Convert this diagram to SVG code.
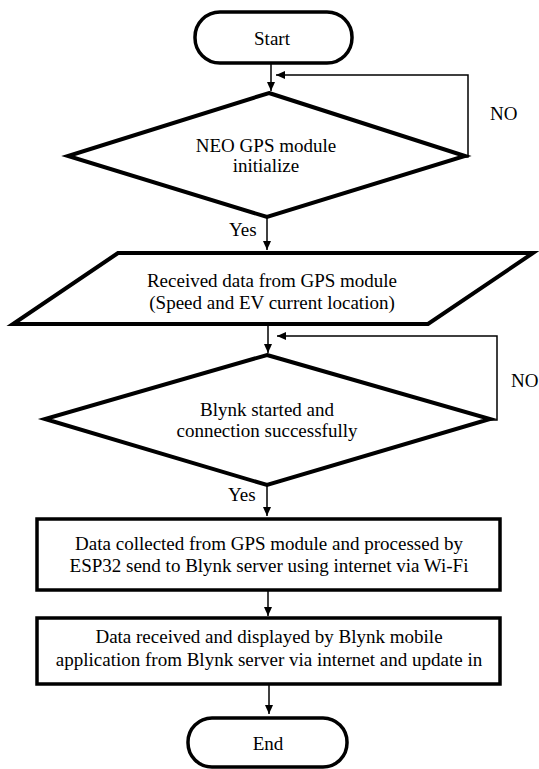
<svg xmlns="http://www.w3.org/2000/svg" width="539" height="769" viewBox="0 0 539 769">
<defs>
<marker id="ah" markerWidth="10" markerHeight="10" refX="9" refY="5" orient="auto" markerUnits="userSpaceOnUse">
<path d="M0,1 L9,5 L0,9 Z" fill="#000"/>
</marker>
<style>
.term{fill:#fff;stroke:#000;stroke-width:3.5}
.shape{fill:#fff;stroke:#000;stroke-width:4;stroke-linejoin:miter}
.box{fill:#fff;stroke:#000;stroke-width:3.5}
.conn{fill:none;stroke:#000;stroke-width:1.5}
.c{text-anchor:middle}
text{font-family:"Liberation Serif","Times New Roman",serif;font-size:19px;fill:#000}
</style>
</defs>
<rect width="539" height="769" fill="#fff"/>
<g id="connectors">
<path class="conn" d="M271,63 V91" marker-end="url(#ah)"/>
<path class="conn" d="M465,157 H468 V75 H276" marker-end="url(#ah)"/>
<path class="conn" d="M267,217 V250" marker-end="url(#ah)"/>
<path class="conn" d="M268,324 V353" marker-end="url(#ah)"/>
<path class="conn" d="M490,420 H497 V336 H277" marker-end="url(#ah)"/>
<path class="conn" d="M267,485 V516" marker-end="url(#ah)"/>
<path class="conn" d="M268,590 V616" marker-end="url(#ah)"/>
<path class="conn" d="M269,684 V714" marker-end="url(#ah)"/>
<text x="229" y="236">Yes</text>
<text x="228" y="501">Yes</text>
<text x="490" y="120">NO</text>
<text x="511" y="387">NO</text>
</g>
<g id="start">
<rect class="term" x="195" y="12" width="157" height="51" rx="25" ry="25"/>
<text class="c" x="272" y="45">Start</text>
</g>
<g id="gps-init">
<polygon class="shape" points="269,93 465,156 267,217 68,156"/>
<text class="c" x="266" y="152">NEO GPS module</text>
<text class="c" x="266" y="172">initialize</text>
</g>
<g id="received-data">
<polygon class="shape" points="118,253 533,253 428,324 13,324"/>
<text class="c" x="272" y="287">Received data from GPS module</text>
<text class="c" x="272" y="309">(Speed and EV current location)</text>
</g>
<g id="blynk-started">
<polygon class="shape" points="267,355 490,419 267,485 45,419"/>
<text class="c" x="267" y="416">Blynk started and</text>
<text class="c" x="267" y="437">connection successfully</text>
</g>
<g id="data-collected">
<rect class="box" x="37" y="519" width="463" height="71"/>
<text class="c" x="269" y="550">Data collected from GPS module and processed by</text>
<text class="c" x="269" y="572">ESP32 send to Blynk server using internet via Wi-Fi</text>
</g>
<g id="data-received">
<rect class="box" x="37" y="618" width="463" height="66"/>
<text class="c" x="269" y="643">Data received and displayed by Blynk mobile</text>
<text class="c" x="269" y="666">application from Blynk server via internet and update in</text>
</g>
<g id="end">
<rect class="term" x="188" y="718" width="159" height="49" rx="24" ry="24"/>
<text class="c" x="268" y="750">End</text>
</g>
</svg>
